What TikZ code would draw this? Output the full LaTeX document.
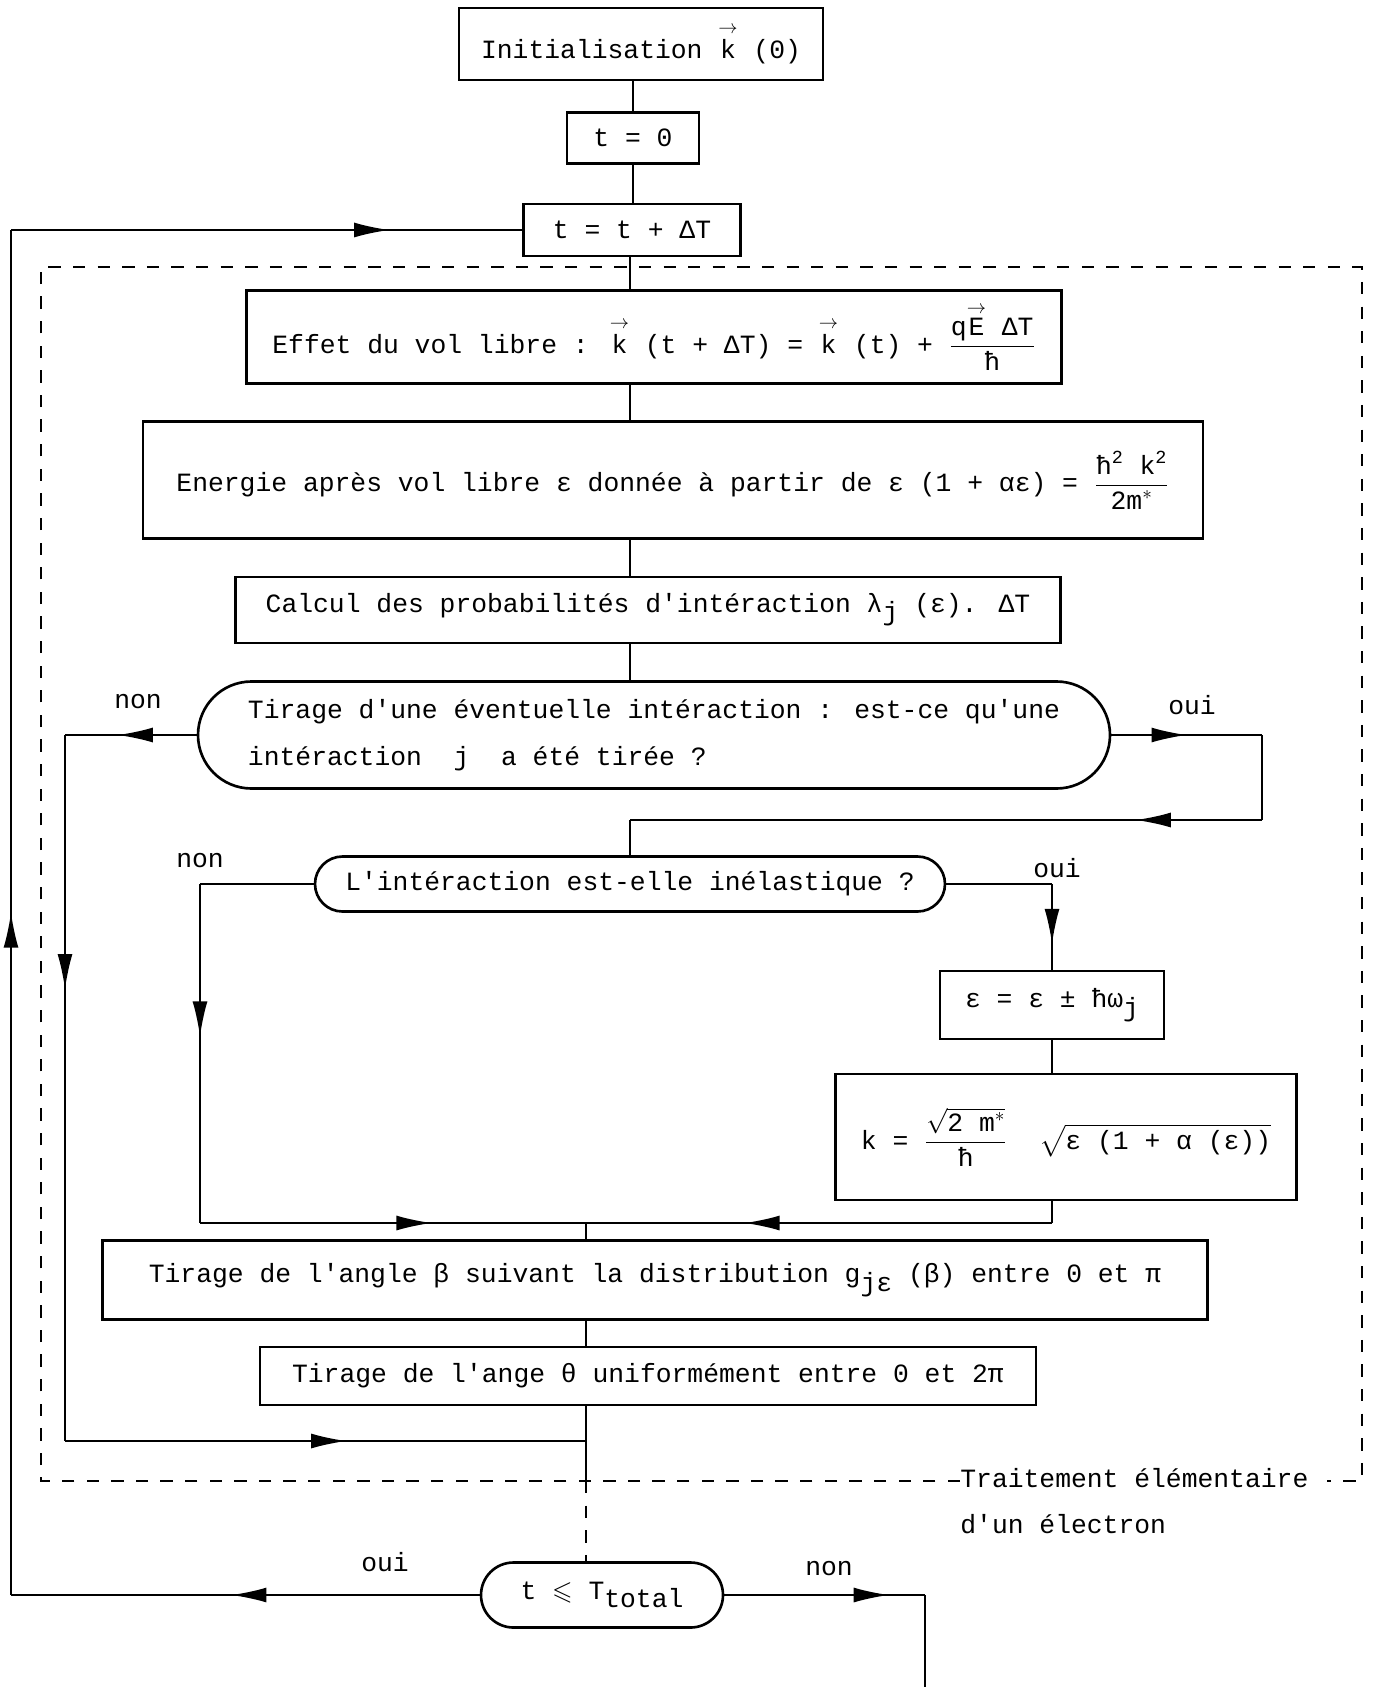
\documentclass[tikz,border=0pt]{standalone}
\usepackage{amsmath}
\usepackage{amssymb}
\usepackage{fontspec}
\setmainfont{Liberation Mono}[Ligatures=TeXOff]
\usetikzlibrary{shapes.misc}
\usetikzlibrary{arrows.meta}
\usetikzlibrary{decorations.markings}
\newcommand{\vk}[1]{\ensuremath{\overset{\rightarrow}{\text{#1}}}}
\newcommand{\low}[1]{\raisebox{-0.6ex}{#1}}

\begin{document}
\begin{tikzpicture}[x=0.2mm, y=-0.2mm,
    every node/.style={font=\fontsize{15}{18}\selectfont},
    box/.style 2 args={draw, line width=1.5pt, inner sep=0pt, minimum width=#1*0.2mm, minimum height=#2*0.2mm},
    choice/.style 2 args={draw, rounded rectangle, line width=1.5pt, inner sep=0pt, minimum width=#1*0.2mm, minimum height=#2*0.2mm},
    link/.style={line width=1pt},
    arrowat/.style={postaction={decorate}, decoration={markings, mark=at position #1 with {\arrow{Latex[length=20pt, width=8.5pt]}}}},
    frame/.style={line width=1pt, dash pattern=on 7pt off 7pt}]

    \useasboundingbox (0,0) rectangle (1373,1687);

    % boxes
    \node[box={364}{72}] (init) at (641,44) {Initialisation \vk{k} (0)};
    \node[box={132}{51}] (t0) at (633,138) {t = 0};
    \node[box={217}{52}] (tdt) at (632,230) {t = t + ΔT};
    \node[box={815}{93}] (effet) at (654,337) {Effet du vol libre : \vk{k} (t + ΔT) = \vk{k} (t) + $\dfrac{\text{q\vk{E} ΔT}}{\text{ħ}}$};
    \node[box={1060}{117}] (energie) at (673,480) {Energie après vol libre ε donnée à partir de ε (1 + αε) = $\dfrac{\text{ħ}^{\text{2}}\ \text{k}^{\text{2}}}{\text{2m}^{*}}$};
    \node[box={825}{66}] (calcul) at (648,610) {Calcul des probabilités d'intéraction λ\low{j} (ε). ΔT};
    \node[choice={912}{107}, align=left] (tirage) at (654,735) {Tirage d'une éventuelle intéraction : est-ce qu'une\\[9pt]intéraction~~j~~a été tirée ?};
    \node[choice={630}{55}] (inel) at (630,884) {L'intéraction est-elle inélastique ?};
    \node[box={224}{68}] (eps) at (1052,1005) {ε = ε ± ħω\low{j}};
    \node[box={461}{126}] (kbox) at (1066,1137) {k = $\dfrac{\sqrt{\text{2 m}^{*}}}{\text{ħ}}$ \ $\sqrt{\text{ε (1 + α (ε))}}$};
    \node[box={1105}{79}] (beta) at (655,1280) {Tirage de l'angle β suivant la distribution g\low{jε} (β) entre 0 et π};
    \node[box={776}{58}] (theta) at (648,1376) {Tirage de l'ange θ uniformément entre 0 et 2π};
    \node[choice={242}{65}] (ttot) at (602,1595) {t $\leqslant$ T\low{total}};

    % labels
    \node (non1) at (138,702) {non};
    \node (oui1) at (1192,705) {oui};
    \node (non2) at (200,861) {non};
    \node (oui2) at (1057,868) {oui};
    \node (oui3) at (385,1562) {oui};
    \node (non3) at (829,1569) {non};
    \node[anchor=base west, inner sep=0pt] (tlabel) at (960,1487) {Traitement élémentaire};
    \node[anchor=base west, inner sep=0pt] (tlabel2) at (960,1533) {d'un électron};

    \coordinate (trunk) at (630,0);
    \coordinate (frameNW) at (41,267);
    \coordinate (frameSE) at (1362,1481);
    \coordinate (nonA) at (65,1441);
    \coordinate (joinB) at (586,1441);
    \coordinate (nonB) at (200,1223);
    \coordinate (joinA) at (586,1223);
    \coordinate (ouiA) at (1262,820);
    \coordinate (loopL) at (11,0);
    \coordinate (endS) at (925,1687);

    % dashed frame
    \draw[frame] (tlabel.west |- frameSE) -- (frameNW |- frameSE) -- (frameNW) -- (frameNW -| frameSE) -- (frameSE) -- ++(-35,0);

    % main line
    \draw[link] (t0.north) -- (t0.north |- init.south);
    \draw[link] (t0.south) -- (t0.south |- tdt.north);
    \draw[link] (trunk |- tdt.south) -- (trunk |- effet.north);
    \draw[link] (trunk |- effet.south) -- (trunk |- energie.north);
    \draw[link] (trunk |- energie.south) -- (trunk |- calcul.north);
    \draw[link] (trunk |- calcul.south) -- (trunk |- tirage.north);

    % non : no interaction
    \draw[link, arrowat=0.6] (tirage.west) -- (tirage.west -| nonA);
    \draw[link, arrowat=0.36] (tirage.west -| nonA) -- (nonA);
    \draw[link, arrowat=0.54] (nonA) -- (joinB);

    % oui : interaction
    \draw[link, arrowat=0.5] (tirage.east) -- (tirage.east -| ouiA);
    \draw[link] (tirage.east -| ouiA) -- (ouiA);
    \draw[link, arrowat=0.2] (ouiA) -- (ouiA -| trunk);
    \draw[link] (ouiA -| trunk) -- (trunk |- inel.north);

    % elastic / inelastic
    \draw[link] (inel.west) -- (inel.west -| nonB);
    \draw[link, arrowat=0.45] (inel.west -| nonB) -- (nonB);
    \draw[link, arrowat=0.6] (nonB) -- (joinA);
    \draw[link] (inel.east) -- (inel.east -| eps.north);
    \draw[link, arrowat=0.7] (inel.east -| eps.north) -- (eps.north);
    \draw[link] (eps.south) -- (eps.south |- kbox.north);
    \draw[link] (eps.south |- kbox.south) -- (eps.south |- joinA);
    \draw[link, arrowat=0.66] (eps.south |- joinA) -- (joinA);

    \draw[link] (joinA) -- (joinA |- beta.north);
    \draw[link] (joinA |- beta.south) -- (joinA |- theta.north);
    \draw[link] (joinA |- theta.south) -- (joinB);
    \draw[link] (joinB) -- (joinB |- frameSE);
    \draw[frame] (joinB |- frameSE) -- (joinB |- ttot.north);

    % test on t
    \draw[link, arrowat=0.53] (ttot.west) -- (ttot.west -| loopL);
    \draw[link, arrowat=0.5] (ttot.west -| loopL) -- (loopL |- tdt.west);
    \draw[link, arrowat=0.74] (loopL |- tdt.west) -- (tdt.west);
    \draw[link, arrowat=0.82] (ttot.east) -- (ttot.east -| endS);
    \draw[link] (ttot.east -| endS) -- (endS);

\end{tikzpicture}
\end{document}
